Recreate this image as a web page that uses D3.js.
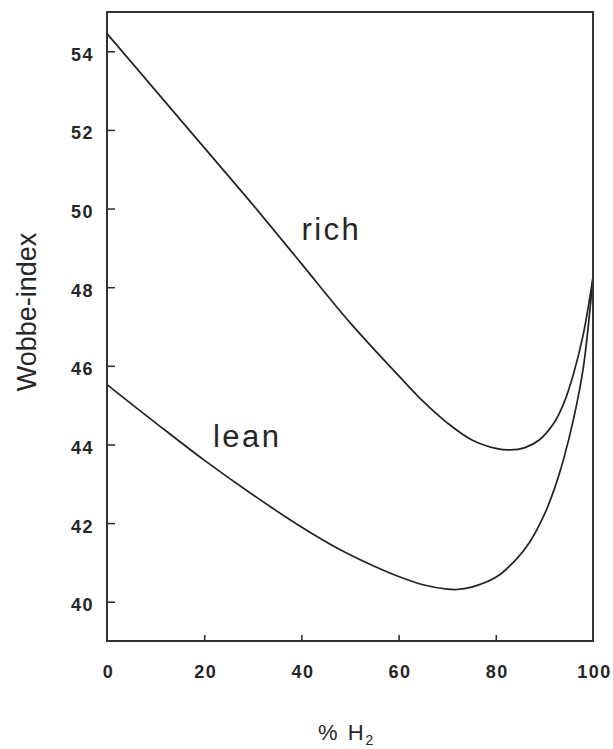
<!DOCTYPE html>
<html>
<head>
<meta charset="utf-8">
<script src="https://cdn.jsdelivr.net/npm/d3@7"></script>
<style>
  body { margin: 0; background: #fff; }
  svg { display: block; }
  text { font-family: "Liberation Sans", Arial, sans-serif; fill: #262626; }
</style>
</head>
<body>
<div id="wrapper"></div>
<script>
// % H2 values and Wobbe-index readings for each curve
const richX = [0, 10, 20, 30, 40, 50, 60, 65, 70, 75, 80, 83, 86, 89, 92, 94, 96, 98, 100];
const richY = [54.45, 53.0, 51.55, 50.1, 48.6, 47.1, 45.75, 45.1, 44.55, 44.12, 43.9, 43.86, 43.92, 44.12, 44.55, 45.05, 45.8, 46.8, 48.25];

const leanX = [0, 10, 20, 30, 40, 48, 55, 60, 65, 70, 72, 75, 80, 84, 87, 90, 92, 94, 96, 98, 100];
const leanY = [45.52, 44.55, 43.6, 42.72, 41.9, 41.32, 40.9, 40.64, 40.43, 40.32, 40.31, 40.37, 40.62, 41.05, 41.52, 42.22, 42.85, 43.65, 44.65, 45.95, 48.25];

const xTicks = [0, 20, 40, 60, 80, 100];
const yTicks = [40, 42, 44, 46, 48, 50, 52, 54];

const curveLabels = ["rich", "lean"];
const curveLabelX = [40, 21.8];
const curveLabelY = [49.2, 43.93];

function drawChart() {
  //* dimensions
  const dimensions = {
    width: 613,
    height: 749,
    margin: { top: 12, right: 20, bottom: 108, left: 107 },
  };
  dimensions.boundedWidth =
    dimensions.width - dimensions.margin.left - dimensions.margin.right;
  dimensions.boundedHeight =
    dimensions.height - dimensions.margin.top - dimensions.margin.bottom;

  const wrapper = d3
    .select("#wrapper")
    .append("svg")
    .attr("width", dimensions.width)
    .attr("height", dimensions.height);

  const bounds = wrapper
    .append("g")
    .attr("transform", `translate(${dimensions.margin.left},${dimensions.margin.top})`);

  //* scales
  const xScale = d3.scaleLinear().domain([0, 100]).range([0, dimensions.boundedWidth]);
  const yScale = d3.scaleLinear().domain([39, 55]).range([dimensions.boundedHeight, 0]);

  //* curves
  const line = d3
    .line()
    .x((d) => xScale(d[0]))
    .y((d) => yScale(d[1]))
    .curve(d3.curveCatmullRom.alpha(0.5));

  const series = [d3.zip(richX, richY), d3.zip(leanX, leanY)];
  bounds
    .selectAll(".curve")
    .data(series)
    .join("path")
    .attr("class", "curve")
    .attr("d", line)
    .attr("fill", "none")
    .attr("stroke", "#222")
    .attr("stroke-width", 1.7);

  //* axes, ticks pointing inward
  const yAxis = bounds
    .append("g")
    .call(d3.axisLeft(yScale).tickValues(yTicks).tickSize(-8).tickPadding(13));
  yAxis.selectAll("text")
    .attr("dy", "0.5em")
    .style("font-size", "18px")
    .style("font-weight", "bold")
    .style("letter-spacing", "1.5px");

  const xAxis = bounds
    .append("g")
    .attr("transform", `translate(0,${dimensions.boundedHeight})`)
    .call(d3.axisBottom(xScale).tickValues(xTicks).tickSize(-6).tickPadding(24));
  xAxis.selectAll("text")
    .style("font-size", "18px")
    .style("font-weight", "bold")
    .style("letter-spacing", "1.5px")
    .attr("dx", "1px");

  [xAxis, yAxis].forEach((ax) => {
    ax.select(".domain").remove();
    ax.selectAll("line").attr("stroke", "#333").attr("stroke-width", 1.6);
    ax.selectAll("text").attr("fill", "#2a2a2a");
  });
  xAxis.selectAll(".tick").filter((d) => d === 0 || d === 100).select("line").remove();

  // frame
  bounds
    .append("rect")
    .attr("width", dimensions.boundedWidth)
    .attr("height", dimensions.boundedHeight)
    .attr("fill", "none")
    .attr("stroke", "#333")
    .attr("stroke-width", 2);

  //* curve labels
  bounds
    .selectAll(".curve-label")
    .data(curveLabels)
    .join("text")
    .attr("class", "curve-label")
    .attr("x", (d, i) => xScale(curveLabelX[i]))
    .attr("y", (d, i) => yScale(curveLabelY[i]))
    .style("font-size", "31px")
    .style("letter-spacing", "2.5px")
    .text((d) => d);

  //* axis titles
  const xTitle = bounds
    .append("text")
    .attr("x", dimensions.boundedWidth / 2 - 32)
    .attr("y", dimensions.boundedHeight + 99)
    .style("font-size", "22px")
    .style("letter-spacing", "2px");
  xTitle.append("tspan").text("%  H");
  xTitle.append("tspan").attr("dy", 5).style("font-size", "14px").text("2");

  bounds
    .append("text")
    .attr("transform", `translate(${36 - dimensions.margin.left},${312 - dimensions.margin.top}) rotate(-90)`)
    .attr("text-anchor", "middle")
    .style("font-size", "27px")
    .text("Wobbe-index");
}
drawChart();
</script>
</body>
</html>
